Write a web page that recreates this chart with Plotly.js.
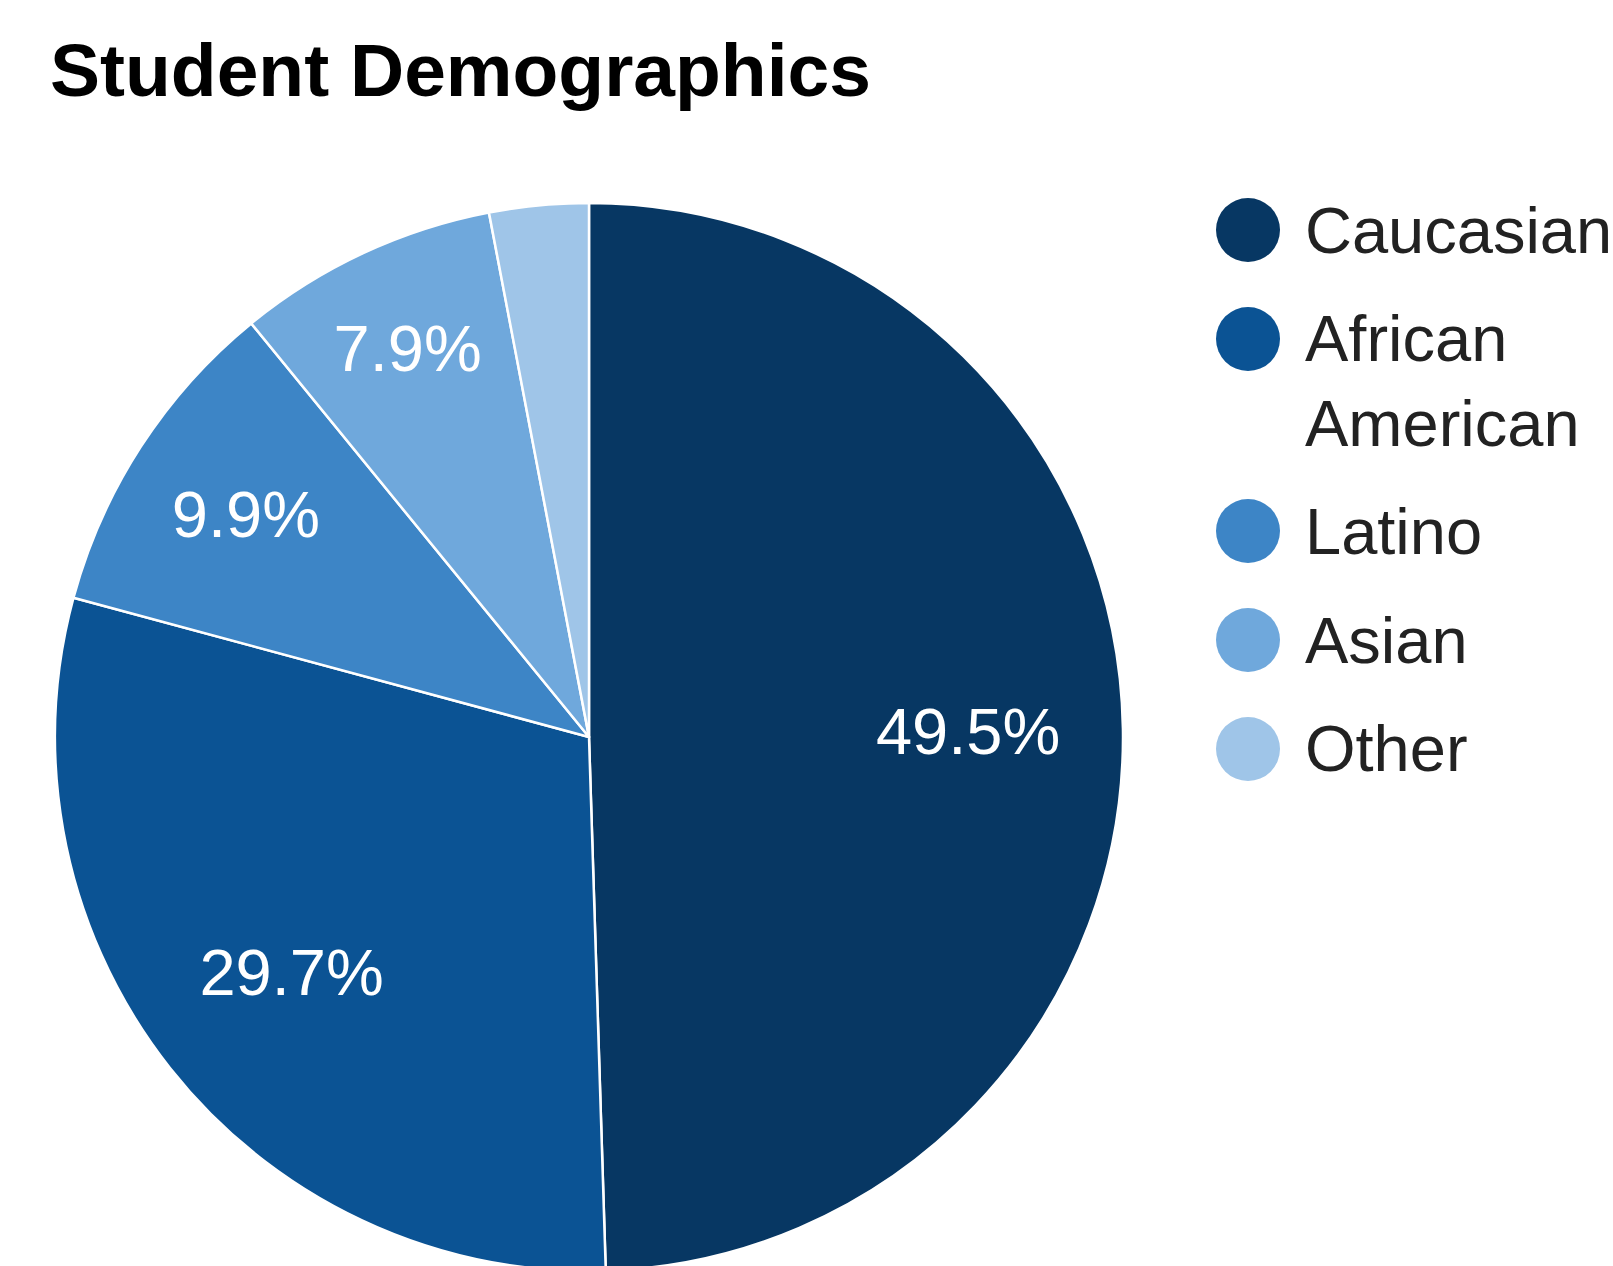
<!DOCTYPE html>
<html>
<head>
<meta charset="utf-8">
<script src="https://cdn.plot.ly/plotly-3.0.1.min.js"></script>
<style>
  html, body { margin: 0; padding: 0; background: #ffffff; overflow: hidden; }
  #chart { width: 1613px; height: 1272px; }
</style>
</head>
<body>
<div id="chart"></div>
<script>
// ---- Data ----
const categories = ['Caucasian', 'African American', 'Latino', 'Asian', 'Other'];
const shares = [49.5, 29.7, 9.9, 7.9, 3.0];
const chartTitle = 'Student Demographics';

// ---- Styles ----
const sliceColors = ['#073763', '#0b5394', '#3d85c6', '#6fa8dc', '#9fc5e8'];
const W = 1613, H = 1272;   // plot slightly taller than the window: pie is cropped at the bottom
const fontFamily = '"Liberation Sans", Arial, sans-serif';
const pieDomain = { x: [55 / W, 1123 / W], y: [1 / H, 1069 / H] };

// Hide label for the tiny slice (as in the reference)
const templates = shares.map(v => v < 5 ? '' : '%{percent:.1%}');

// Slices
const pieTrace = {
  type: 'pie',
  labels: categories,
  values: shares,
  sort: false,
  direction: 'clockwise',
  rotation: 0,
  marker: { colors: sliceColors, line: { color: '#ffffff', width: 2.5 } },
  textinfo: 'none',
  hoverinfo: 'label+percent',
  showlegend: false,
  domain: pieDomain
};

// Same data, transparent ring: only carries the percentage labels (placed in outer part of slices)
const labelTrace = {
  type: 'pie',
  labels: categories,
  values: shares,
  sort: false,
  direction: 'clockwise',
  rotation: 0,
  hole: 0.42,
  marker: { colors: categories.map(() => 'rgba(0,0,0,0)'), line: { width: 0 } },
  texttemplate: templates,
  textposition: 'inside',
  insidetextorientation: 'horizontal',
  insidetextfont: { family: fontFamily, size: 65, color: '#ffffff' },
  hoverinfo: 'skip',
  showlegend: false,
  domain: pieDomain
};

// ---- Manual legend (circle markers + text) ----
const shapes = [];
const annotations = [];
const legX = 1248, legR = 32, textX = 1303;
const legFont = 65, lineH = 83, rowStep = 109;
let rowY = 230;
categories.forEach((name, i) => {
  const lines = name.includes(' ') && name.length > 12 ? name.split(' ') : [name];
  shapes.push({
    type: 'circle', xref: 'paper', yref: 'paper',
    x0: (legX - legR) / W, x1: (legX + legR) / W,
    y0: 1 - (rowY + legR) / H, y1: 1 - (rowY - legR) / H,
    fillcolor: sliceColors[i], line: { width: 0 }
  });
  const midY = rowY + (lines.length - 1) * lineH / 2;
  annotations.push({
    xref: 'paper', yref: 'paper',
    x: textX / W, y: 1 - midY / H,
    xanchor: 'left', yanchor: 'middle',
    text: lines.join('<br>'), align: 'left',
    showarrow: false,
    font: { family: fontFamily, size: legFont, color: '#222222' }
  });
  rowY += rowStep + (lines.length - 1) * lineH;
});

const layout = {
  width: W, height: H,
  margin: { l: 0, r: 0, t: 0, b: 0 },
  paper_bgcolor: '#ffffff',
  title: {
    text: '<b>' + chartTitle + '</b>',
    x: 50 / W, xref: 'container', xanchor: 'left',
    y: 1 - 70 / H, yref: 'container', yanchor: 'middle',
    font: { family: fontFamily, size: 75, color: '#000000' }
  },
  showlegend: false,
  shapes: shapes,
  annotations: annotations
};

Plotly.newPlot('chart', [pieTrace, labelTrace], layout, { displayModeBar: false, staticPlot: true });
</script>
</body>
</html>
